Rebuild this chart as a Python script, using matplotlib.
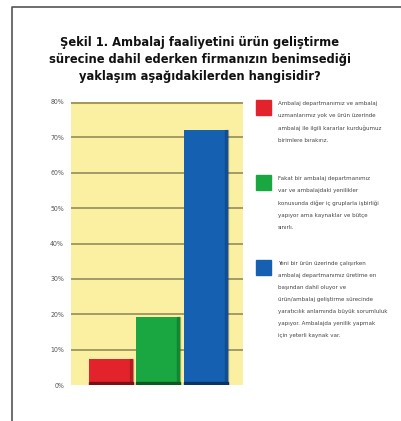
import matplotlib.pyplot as plt
from matplotlib.patches import Rectangle

# --- data ---
categories = ["Departman yok", "Sınırlı departman", "Baştan dahil"]
percentages = [7.4, 19.3, 72.2]
bar_colors = ["#e2232b", "#1aa640", "#1660b2"]
edge_colors = ["#7a1015", "#0c5a22", "#0b3466"]
yticks = [0, 10, 20, 30, 40, 50, 60, 70, 80]
ytick_labels = [f"{v}%" for v in yticks]

title = ("Şekil 1. Ambalaj faaliyetini ürün geliştirme\n"
         "sürecine dahil ederken firmanızın benimsediği\n"
         "yaklaşım aşağıdakilerden hangisidir?")

legend_texts = [
    "Ambalaj departmanımız ve ambalaj\n"
    "uzmanlarımız yok ve ürün üzerinde\n"
    "ambalaj ile ilgili kararlar kurduğumuz\n"
    "birimlere bırakırız.",
    "Fakat bir ambalaj departmanımız\n"
    "var ve ambalajdaki yenilikler\n"
    "konusunda diğer iç gruplarla işbirliği\n"
    "yapıyor ama kaynaklar ve bütçe\n"
    "sınırlı.",
    "Yeni bir ürün üzerinde çalışırken\n"
    "ambalaj departmanımız üretime en\n"
    "başından dahil oluyor ve\n"
    "ürün/ambalaj geliştirme sürecinde\n"
    "yaratıcılık anlamında büyük sorumluluk\n"
    "yapıyor. Ambalajda yenilik yapmak\n"
    "için yeterli kaynak var.",
]

W, H = 402, 421
fig = plt.figure(figsize=(W / 100, H / 100), dpi=100)
fig.patch.set_facecolor("white")

# --- bar chart ---
ax = fig.add_axes([71 / W, (H - 385) / H, 172 / W, 283 / H])
ax.set_facecolor("#fbf0a2")
ax.set_xlim(-0.846, 2.79)
ax.set_ylim(0, 80)
for y in yticks[1:]:
    ax.axhline(y, color="#9c9560", lw=1.3, zorder=1)
ax.axhline(80, color="#a39a5c", lw=2.2, zorder=1)
x = range(len(categories))
ax.bar(x, percentages, width=0.93, color=bar_colors, zorder=3)
# darker base and right edge for a bit of depth
for i, v in enumerate(percentages):
    ax.add_patch(Rectangle((i - 0.465, 0), 0.93, 0.8, color=edge_colors[i], zorder=4))
    ax.add_patch(Rectangle((i + 0.40, 0), 0.065, v, color=edge_colors[i], alpha=0.35, zorder=4))
ax.set_xticks([])
ax.set_yticks(yticks)
ax.set_yticklabels(ytick_labels, fontsize=5, color="#555555", fontstretch="condensed")
ax.tick_params(axis="y", length=0, pad=5)
for s in ax.spines.values():
    s.set_visible(False)

# --- overlay for frame, title and legend ---
ov = fig.add_axes([0, 0, 1, 1], zorder=-1)
ov.set_xlim(0, W)
ov.set_ylim(H, 0)
ov.axis("off")
ov.plot([12, 12, W], [H, 7, 7], color="#555555", lw=1.2)

fig.text(200 / W, 1 - 36 / H, title, ha="center", va="top", fontsize=8.3,
         fontweight="bold", color="#111111", linespacing=1.38)

square_tops = [100, 175, 260]
for top, col, txt in zip(square_tops, bar_colors, legend_texts):
    ov.add_patch(Rectangle((256, top), 15, 15, color=col))
    ov.text(278, top + 1, txt, fontsize=4.4, color="#444444", va="top", ha="left",
            linespacing=2.75, fontstretch="condensed")

fig.savefig("out.png", dpi=100)
